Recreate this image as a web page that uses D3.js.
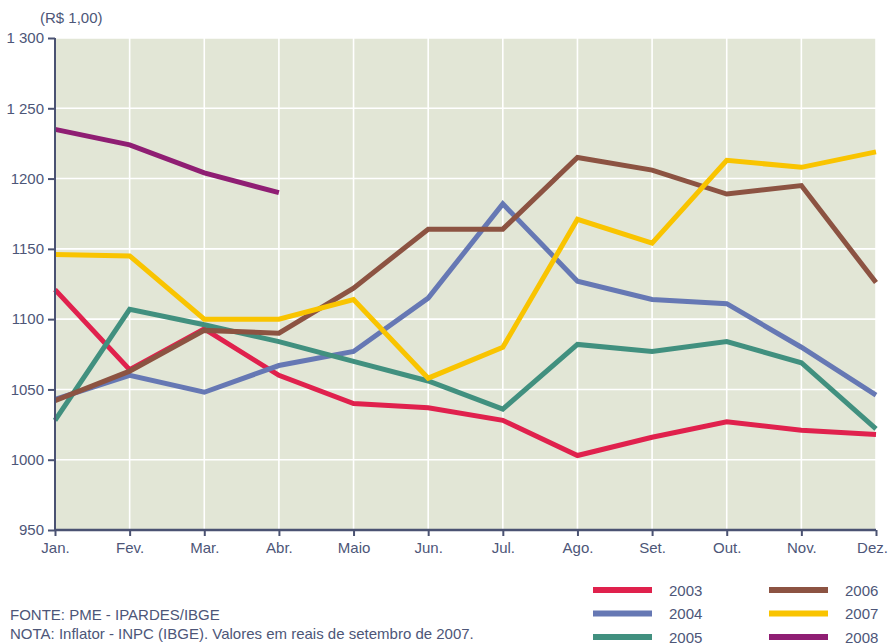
<!DOCTYPE html>
<html>
<head>
<meta charset="utf-8">
<script src="https://cdn.jsdelivr.net/npm/d3@7"></script>
<style>
  body { margin: 0; background: #fff; }
  text { font-family: "Liberation Sans", Arial, sans-serif; fill: #4d5678; }
</style>
</head>
<body>
<div id="chart"></div>
<script>
const months = ["Jan.", "Fev.", "Mar.", "Abr.", "Maio", "Jun.", "Jul.", "Ago.", "Set.", "Out.", "Nov.", "Dez."];
const yTicks = [950, 1000, 1050, 1100, 1150, 1200, 1250, 1300];
const yTickLabels = ["950", "1000", "1050", "1100", "1150", "1200", "1 250", "1 300"];

const years = ["2003", "2004", "2005", "2006", "2007", "2008"];
const v2003 = [1121, 1064, 1093, 1060, 1040, 1037, 1028, 1003, 1016, 1027, 1021, 1018];
const v2004 = [1043, 1060, 1048, 1067, 1077, 1115, 1182, 1127, 1114, 1111, 1080, 1046];
const v2005 = [1028, 1107, 1096, 1084, 1070, 1056, 1036, 1082, 1077, 1084, 1069, 1022];
const v2006 = [1042, 1063, 1092, 1090, 1122, 1164, 1164, 1215, 1206, 1189, 1195, 1126];
const v2007 = [1146, 1145, 1100, 1100, 1114, 1058, 1080, 1171, 1154, 1213, 1208, 1219];
const v2008 = [1235, 1224, 1204, 1190];
const colors = ["#e0214d", "#6678b4", "#41907f", "#8c5342", "#f9c400", "#8f1e73"];

const seriesData = [v2003, v2004, v2005, v2006, v2007, v2008];

const width = 889, height = 643;
const margin = { top: 38, right: 13, bottom: 113, left: 55 };
const innerW = width - margin.left - margin.right,
  innerH = height - margin.top - margin.bottom;

const svg = d3.select("#chart")
  .append("svg")
  .attr("width", width)
  .attr("height", height);

const g = svg.append("g")
  .attr("transform", `translate(${margin.left},${margin.top})`);

const x = d3.scalePoint()
  .domain(months)
  .range([0, innerW]);

const y = d3.scaleLinear()
  .domain([950, 1300])
  .range([innerH, 0]);

// fond
g.append("rect")
  .attr("width", innerW)
  .attr("height", innerH)
  .attr("fill", "#e2e6d6");

// grille
g.selectAll(".hgrid")
  .data(yTicks.slice(1))
  .join("line")
  .attr("x1", 0)
  .attr("x2", innerW)
  .attr("y1", d => y(d))
  .attr("y2", d => y(d))
  .attr("stroke", "#fff")
  .attr("stroke-width", 1.6);

g.selectAll(".vgrid")
  .data(months.slice(1))
  .join("line")
  .attr("x1", d => x(d))
  .attr("x2", d => x(d))
  .attr("y1", 0)
  .attr("y2", innerH)
  .attr("stroke", "#fff")
  .attr("stroke-width", 1.6);

const line = d3.line()
  .x((d, i) => x(months[i]))
  .y(d => y(d));

g.selectAll(".serie")
  .data(seriesData)
  .join("path")
  .attr("fill", "none")
  .attr("stroke", (d, i) => colors[i])
  .attr("stroke-width", 5)
  .attr("stroke-linejoin", "miter")
  .attr("d", line);

// axes
const axisColor = "#4a5272";

const yAxis = g.append("g")
  .call(d3.axisLeft(y).tickValues(yTicks).tickSize(7).tickPadding(4)
    .tickFormat((d, i) => yTickLabels[i]));
yAxis.select(".domain").attr("stroke", axisColor).attr("stroke-width", 2)
  .attr("d", `M0,0V${innerH}`);
yAxis.selectAll(".tick line").attr("stroke", axisColor).attr("stroke-width", 2);
yAxis.selectAll("text").style("font-size", "15px").style("font-family", null).attr("fill", "#4d5678");

const xAxis = g.append("g")
  .attr("transform", `translate(0,${innerH})`)
  .call(d3.axisBottom(x).tickSize(6).tickPadding(6));
xAxis.select(".domain").attr("stroke", axisColor).attr("stroke-width", 2.5)
  .attr("d", `M0,0H${innerW}`);
xAxis.selectAll(".tick line").attr("stroke", axisColor).attr("stroke-width", 2);
xAxis.selectAll("text").style("font-size", "15px").style("font-family", null).attr("fill", "#4d5678");
// dernier libellé décalé pour rester dans le cadre
xAxis.selectAll("text").filter(d => d === "Dez.").attr("dx", -4);

svg.append("text")
  .attr("x", 40)
  .attr("y", 23)
  .style("font-size", "15px")
  .text("(R$ 1,00)");

// légende
const legend = svg.append("g");
const legendItems = legend.selectAll("g")
  .data(years)
  .join("g")
  .attr("transform", (d, i) => `translate(${i < 3 ? 593 : 769},${590 + (i % 3) * 23.5})`);

legendItems.append("line")
  .attr("x1", 0)
  .attr("x2", 59)
  .attr("stroke", (d, i) => colors[i])
  .attr("stroke-width", 6);

legendItems.append("text")
  .attr("x", 76)
  .attr("y", 5.5)
  .style("font-size", "15px")
  .text(d => d);

// notes
svg.append("text")
  .attr("x", 10)
  .attr("y", 620)
  .style("font-size", "15px")
  .text("FONTE: PME - IPARDES/IBGE");

svg.append("text")
  .attr("x", 10)
  .attr("y", 639)
  .style("font-size", "15px")
  .text("NOTA: Inflator - INPC (IBGE). Valores em reais de setembro de 2007.");
</script>
</body>
</html>
